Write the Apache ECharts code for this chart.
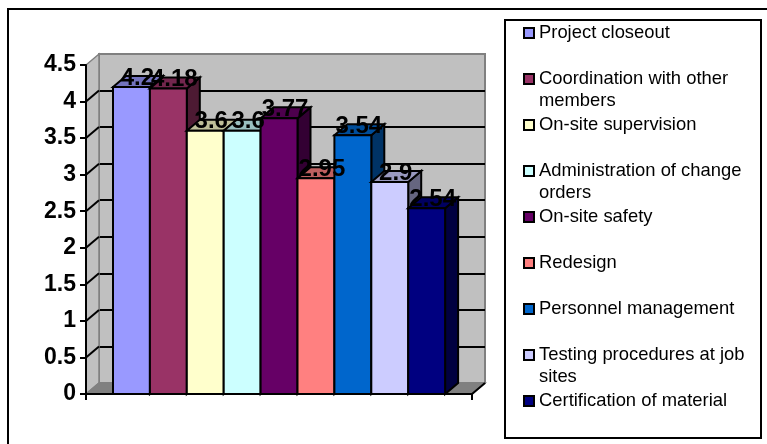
<!DOCTYPE html>
<html>
<head>
<meta charset="utf-8">
<style>html,body{margin:0;padding:0;background:#fff}#c{width:767px;height:444px}</style>
<script src="https://cdn.jsdelivr.net/npm/echarts@6/dist/echarts.min.js"></script>
</head>
<body>
<div id="c"></div>
<script>
var categories = [''];
var seriesNames = ['Project closeout','Coordination with other members','On-site supervision','Administration of change orders','On-site safety','Redesign','Personnel management','Testing procedures at job sites','Certification of material'];
var legendWrapped = ['Project closeout','Coordination with other\nmembers','On-site supervision','Administration of change\norders','On-site safety','Redesign','Personnel management','Testing procedures at job\nsites','Certification of material'];
var seriesValues = [4.2,4.18,3.6,3.6,3.77,2.95,3.54,2.9,2.54];
var seriesColors = ['#9999ff','#993366','#ffffcc','#ccffff','#660066','#ff8080','#0066cc','#ccccff','#000080'];
var slantTicks = [0.5,1,1.5,2,2.5,3,3.5,4];
var yMax = 4.5;

var DX = 13, DY = -11, BAR_W = 36.9, SIDE_GAP = 27;
var FONT = '"Liberation Sans", Arial, sans-serif';

function shade(hex, k) {
  var n = parseInt(hex.slice(1), 16);
  var r = Math.round((n >> 16 & 255) * k), g = Math.round((n >> 8 & 255) * k), b = Math.round((n & 255) * k);
  return 'rgb(' + r + ',' + g + ',' + b + ')';
}
var blk = {stroke:'#000', lineWidth:2, lineJoin:'miter'};
function poly(pts, fill, z2) {
  return {type:'polygon', z2:z2||0, shape:{points:pts}, style:Object.assign({fill:fill}, blk)};
}

var barSeries = seriesNames.map(function (name, i) {
  return {
    name: name, type: 'custom', xAxisIndex: 0, yAxisIndex: 0, z: 3,
    itemStyle: {color: seriesColors[i]},
    data: [[0, seriesValues[i]]],
    renderItem: function (params, api) {
      var v = api.value(1);
      var base = api.coord([0, 0]), top = api.coord([0, v]);
      var band = api.size([1, 0])[0];
      var x0 = base[0] - band / 2 + SIDE_GAP + i * BAR_W, x1 = x0 + BAR_W;
      var y0 = base[1], y1 = top[1];
      var col = seriesColors[i];
      return {type:'group', children:[
        poly([[x1,y1],[x1+DX,y1+DY],[x1+DX,y0+DY],[x1,y0]], shade(col,0.5)),
        poly([[x0,y1],[x0+DX,y1+DY],[x1+DX,y1+DY],[x1,y1]], shade(col,0.75)),
        {type:'rect', shape:{x:x0,y:y1,width:BAR_W,height:y0-y1}, style:Object.assign({fill:col}, blk)},
        {type:'text', z2:100, style:{text:String(v), x:(x0+x1)/2+DX/2-0.5, y:y1+3, align:'center', verticalAlign:'bottom', fill:'#000', font:'bold 24px '+FONT}}
      ]};
    }
  };
});

var wallSeries = {
  name:'wall', type:'custom', xAxisIndex:0, yAxisIndex:0, z:1, silent:true,
  data:[[0,0]],
  renderItem:function (params, api) {
    var b = api.coord([0,0]), t = api.coord([0,yMax]);
    var band = api.size([1,0])[0], xl = b[0]-band/2, xr = xl+band, yb = b[1], yt = t[1];
    var st = {stroke:'#808080', lineWidth:1.5};
    return {type:'group', children:[
      {type:'polygon', shape:{points:[[xl,yt],[xl+DX,yt+DY],[xl+DX,yb+DY],[xl,yb]]}, style:Object.assign({fill:'#c0c0c0'},st)},
      {type:'polygon', shape:{points:[[xl,yb],[xl+DX,yb+DY],[xr+DX,yb+DY],[xr,yb]]}, style:Object.assign({fill:'#808080'},st)}
    ]};
  }
};
var slantSeries = {
  name:'slant', type:'custom', xAxisIndex:0, yAxisIndex:0, z:2, silent:true,
  data:slantTicks.map(function(t){return [0,t];}),
  renderItem:function (params, api) {
    var p = api.coord([0,api.value(1)]), band = api.size([1,0])[0], xl = p[0]-band/2;
    return {type:'line', shape:{x1:xl,y1:p[1],x2:xl+DX,y2:p[1]+DY}, style:{stroke:'#000',lineWidth:2}};
  }
};
var rightSlant = {
  name:'rslant', type:'custom', xAxisIndex:0, yAxisIndex:0, z:2, silent:true,
  data:[[0,0]],
  renderItem:function (params, api) {
    var p = api.coord([0,0]), band = api.size([1,0])[0], xr = p[0]+band/2;
    return {type:'line', shape:{x1:xr,y1:p[1],x2:xr+DX,y2:p[1]+DY}, style:{stroke:'#000',lineWidth:2}};
  }
};

var chart = echarts.init(document.getElementById('c'), null, {renderer:'canvas'});
chart.setOption({
  animation:false,
  backgroundColor:'#fff',
  graphic:[
    {type:'rect', z:-10, silent:true, shape:{x:8,y:9,width:900,height:900}, style:{fill:'none',stroke:'#000',lineWidth:2}},
    {type:'rect', z:-10, silent:true, shape:{x:505,y:20,width:256,height:418}, style:{fill:'#fff',stroke:'#000',lineWidth:2}}
  ],
  grid:[
    {left:86, top:65, width:386, height:329, show:false},
    {left:99, top:54, width:386, height:329, show:true, backgroundColor:'#c0c0c0', borderColor:'#808080', borderWidth:2}
  ],
  xAxis:[
    {type:'category', gridIndex:0, data:categories, z:5, boundaryGap:true,
     axisLine:{lineStyle:{color:'#000',width:2}}, axisTick:{show:true,length:6,lineStyle:{color:'#000',width:2},alignWithLabel:false}, axisLabel:{show:false}, splitLine:{show:false}},
    {type:'category', gridIndex:1, data:categories, show:false}
  ],
  yAxis:[
    {type:'value', gridIndex:0, min:0, max:yMax, interval:0.5, z:5,
     axisLine:{show:true,lineStyle:{color:'#000',width:2}}, axisTick:{show:true,length:6,lineStyle:{color:'#000',width:2}},
     axisLabel:{fontFamily:FONT,fontSize:23,fontWeight:'bold',color:'#000',margin:10,padding:[3,0,0,0],hideOverlap:false,showMinLabel:true,showMaxLabel:true}, splitLine:{show:false}},
    {type:'value', gridIndex:1, min:0, max:yMax, interval:0.5,
     axisLine:{show:false}, axisTick:{show:false}, axisLabel:{show:false}, splitLine:{show:true,showMinLine:false,showMaxLine:false,lineStyle:{color:'#000',width:2}}}
  ],
  legend:{
    data:seriesNames, orient:'vertical', left:523, top:0, padding:0, itemGap:-20, itemWidth:10, itemHeight:10,
    icon:'rect', selectedMode:false,
    itemStyle:{borderColor:'#000',borderWidth:2},
    textStyle:{fontFamily:FONT,fontSize:18.4,color:'#000',lineHeight:22},
    formatter:function(name){
      var t = legendWrapped[seriesNames.indexOf(name)];
      return '\n' + (t.indexOf('\n')>=0 ? t : t + '\n ');
    }
  },
  series:[wallSeries, slantSeries, rightSlant].concat(barSeries)
});
</script>
</body>
</html>
